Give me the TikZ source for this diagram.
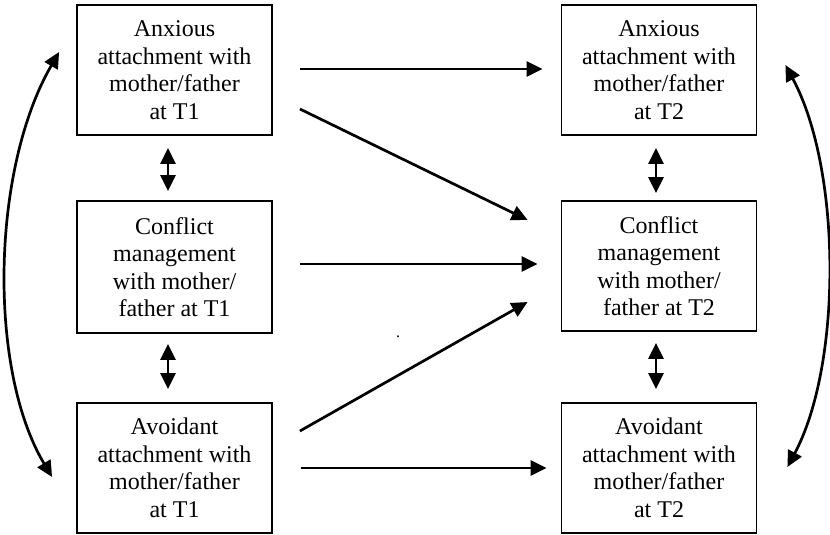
\documentclass[tikz,border=0pt]{standalone}
\usepackage{fontspec}
\setmainfont{Liberation Serif}
\usetikzlibrary{arrows.meta,calc}
\begin{document}
\begin{tikzpicture}[x=1pt,y=-1pt,
  box/.style={draw, line width=1.8pt, minimum width=195pt, minimum height=130pt,
    align=center, inner sep=0pt, font=\fontsize{24}{27.5}\selectfont},
  arr/.style={line width=2.7pt, -{Triangle[length=16pt,width=15pt]}},
  dbl/.style={line width=2.7pt, {Triangle[length=16pt,width=15pt]}-{Triangle[length=16pt,width=15pt]}}]
\useasboundingbox (0,0) rectangle (830,535);

% T1 column
\node[box] (a1) at (174.5,70) {Anxious\\attachment with\\mother/father\\at T1};
\node[box, minimum height=132pt] (b1) at (174.5,267) {Conflict\\management\\with mother/\\father at T1};
\node[box] (c1) at (174.5,468) {Avoidant\\attachment with\\mother/father\\at T1};

% T2 column
\node[box] (a2) at (659,70) {Anxious\\attachment with\\mother/father\\at T2};
\node[box] (b2) at (659,266) {Conflict\\management\\with mother/\\father at T2};
\node[box] (c2) at (659,468) {Avoidant\\attachment with\\mother/father\\at T2};

% stray period
\node[inner sep=0pt, anchor=base, font=\fontsize{16}{16}\selectfont] (dot) at (398,337) {.};

% within-time associations
\draw[dbl] ($(a1.south)+(-6.5,12)$) -- ($(b1.north)+(-6.5,-9)$);
\draw[dbl] ($(b1.south)+(-6.5,10)$) -- ($(c1.north)+(-6.5,-13)$);
\draw[dbl] ($(a2.south)+(-3,12)$) -- ($(b2.north)+(-3,-7)$);
\draw[dbl] ($(b2.south)+(-3,11)$) -- ($(c2.north)+(-3,-13)$);

% cross-lagged paths
\draw[arr] ($(a1.east)+(27,-1)$) -- ($(a2.west)+(-18,-1)$);
\draw[arr] ($(b1.east)+(27,-3)$) -- ($(b2.west)+(-23,-2)$);
\draw[arr] ($(c1.east)+(28,0)$) -- ($(c2.west)+(-14,0)$);
\draw[arr] ($(a1.east)+(27,39)$) -- ($(b2.west)+(-33,-46)$);
\draw[arr] ($(c1.east)+(27,-37)$) -- ($(b2.west)+(-33,36)$);

% curved correlations between attachment dimensions
\coordinate (lt) at ($(a1.west)+(-17,-18)$);
\coordinate (lb) at ($(c1.west)+(-24,9)$);
\coordinate (rt) at ($(a2.east)+(28,-5)$);
\coordinate (rb) at ($(c2.east)+(30,-1)$);
\draw[dbl] (lt) .. controls (-9,170) and (-12,370) .. (lb);
\draw[dbl] (rt) .. controls (842,170) and (842,365) .. (rb);
\end{tikzpicture}
\end{document}
